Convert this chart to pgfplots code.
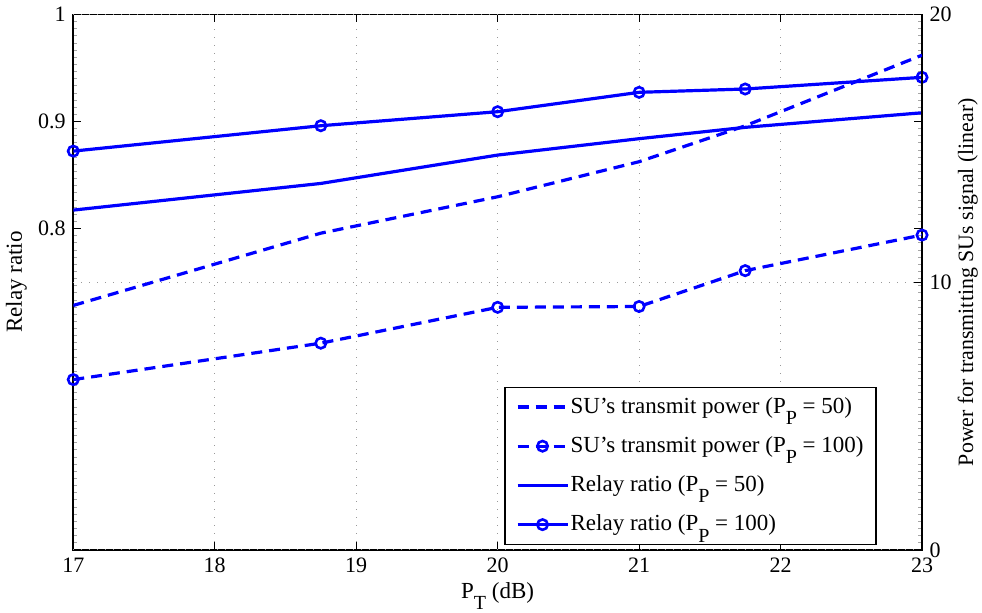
\documentclass[11pt,border=0pt]{standalone}
\usepackage{fontspec}
\setmainfont{Liberation Serif}
\usepackage{pgfplots}
\pgfplotsset{compat=1.18}
\usetikzlibrary{calc}
\definecolor{mblue}{RGB}{0,0,255}
\newcommand{\sub}[1]{\raisebox{-5.6pt}{\fontsize{10}{10}\selectfont #1}}
\pgfplotstableread{
x    relay50  relay100
17   0.8173   0.8724
18.75 0.8422  0.8961
20   0.8687   0.9092
21   0.8840   0.9273
21.75 0.8946  0.9304
23   0.9082   0.9413
}\relaytab
\pgfplotstableread{
x    su50    su100
17   9.13    6.36
18.75 11.83  7.72
20   13.19   9.06
21   14.50   9.09
21.75 15.84  10.43
23   18.48   11.76
}\sutab
\tikzset{
  gridstyle/.style={gray!80, line width=0.5pt, dash pattern=on 0.6pt off 3.4pt},
  mydash/.style={dash pattern=on 5.5pt off 3.5pt},
}
\pgfplotsset{
  myaxis/.style={
    scale only axis, width=424.5pt, height=267.75pt,
    xmin=17, xmax=23,
    /pgf/number format/assume math mode=true,
    tick align=inside,
    major tick length=4pt,
    minor tick length=2pt,
    tick style={black, line width=0.5pt},
    minor tick style={gray!70, line width=0.5pt},
    every tick label/.append style={font=\fontsize{11}{13}\selectfont},
  },
}
\begin{document}
\begin{tikzpicture}
\begin{axis}[myaxis, name=L,
  axis line style={line width=0.8pt},
  ymin=0.5, ymax=1,
  xtick={17,18,19,20,21,22,23},
  xticklabels={17,18,19,20,21,22,23},
  ytick={0.8,0.9,1},
  yticklabels={0.8,0.9,1},
  minor ytick={0.5,0.5066667,...,1.0},
  xmajorgrids, major grid style={gridstyle},
  ylabel={Relay ratio},
  ylabel style={at={(axis description cs:-0.067,0.5)}, anchor=center, font=\fontsize{11.5}{13}\selectfont},
  xlabel={P\sub{T} (dB)},
  xlabel style={at={(axis description cs:0.5,-0.086)}, anchor=center, font=\fontsize{11.5}{13}\selectfont},
]
\addplot[mblue, line width=1.6pt] table[x=x, y=relay50] {\relaytab};
\addplot[mblue, line width=1.6pt, mark=o, mark size=2.6pt, mark options={line width=1.3pt, solid}] table[x=x, y=relay100] {\relaytab};
\end{axis}
\begin{axis}[myaxis,
  axis x line=none,
  axis y line*=right,
  y axis line style={line width=1pt},
  ymin=0, ymax=20,
  ytick={0,10,20},
  yticklabels={0,10,20},
  ymajorgrids, major grid style={gridstyle},
  ylabel={Power for transmitting SUs signal (linear)},
  ylabel style={at={(axis description cs:1.054,0.5)}, anchor=center, rotate=0},
  legend cell align=left,
  legend style={at={(0.9466,0.0093)}, anchor=south east, draw=black, line width=0.6pt,
    fill=white, font=\fontsize{11.5}{13}\selectfont, row sep=6pt,
    inner xsep=5.5pt, inner ysep=3pt,
    nodes={inner xsep=0.75pt}},
  legend image code/.code={
    \draw[mark repeat=2, mark phase=2, #1] plot coordinates {(0pt,0pt) (12.5pt,0pt) (25pt,0pt)};
  },
]
\addplot[mblue, line width=1.6pt, mydash] table[x=x, y=su50] {\sutab};
\addlegendentry{{SU’s transmit power (P\sub{P} = 50)}}
\addplot[mblue, line width=1.6pt, mydash, mark=o, mark size=2.6pt, mark options={line width=1.3pt, solid}] table[x=x, y=su100] {\sutab};
\addlegendentry{{SU’s transmit power (P\sub{P} = 100)}}
\addlegendimage{mblue, line width=1.6pt}
\addlegendentry{{Relay ratio (P\sub{P} = 50)}}
\addlegendimage{mblue, line width=1.6pt, mark=o, mark size=2.6pt, mark options={line width=1.3pt, solid}}
\addlegendentry{{Relay ratio (P\sub{P} = 100)}}
\end{axis}
\pgfresetboundingbox
\path ($(L.south west)+(-36.65pt,-31.5pt)$) rectangle ($(L.north east)+(30pt,7.25pt)$);
\end{tikzpicture}
\end{document}
